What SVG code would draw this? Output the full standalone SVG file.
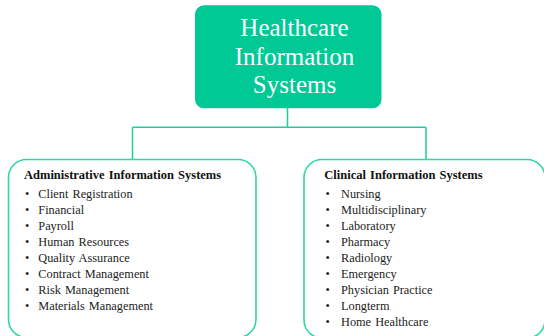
<svg xmlns="http://www.w3.org/2000/svg" width="544" height="336" viewBox="0 0 544 336">
<style>
.conn{fill:none;stroke:#1ccf9f;stroke-width:1.5}
.child{fill:#fff;stroke:#2fd6a8;stroke-width:1.6}
.title{font-family:"Liberation Serif","Times New Roman",serif;font-size:25px;fill:#fff;text-anchor:middle}
.head{font-family:"Liberation Serif","Times New Roman",serif;font-size:12.5px;font-weight:bold;fill:#111;word-spacing:1px}
.item{font-family:"Liberation Serif","Times New Roman",serif;font-size:12.3px;fill:#222;word-spacing:1px}
</style>
<rect width="544" height="336" fill="#fff"/>
<g id="connectors">
<path class="conn" d="M287.5 108 V127.3 M132.5 127.3 H426 M132.5 127.3 V159.5 M426 127.3 V159.5"/>
</g>
<g id="root">
<rect x="195" y="5.3" width="186.5" height="103" rx="9" fill="#00c996"/>
<text class="title" x="294.5" y="36">Healthcare</text>
<text class="title" x="294.5" y="65">Information</text>
<text class="title" x="294.5" y="93">Systems</text>
</g>
<g id="admin">
<rect class="child" x="8.5" y="159.5" width="247.5" height="178" rx="18"/>
<text class="head" x="24" y="179.3">Administrative Information Systems</text>
<g class="item">
<text x="25" y="198.3">•</text><text x="38.3" y="198.3">Client Registration</text>
<text x="25" y="214.3">•</text><text x="38.3" y="214.3">Financial</text>
<text x="25" y="230.2">•</text><text x="38.3" y="230.2">Payroll</text>
<text x="25" y="246.1">•</text><text x="38.3" y="246.1">Human Resources</text>
<text x="25" y="262">•</text><text x="38.3" y="262">Quality Assurance</text>
<text x="25" y="278.1">•</text><text x="38.3" y="278.1">Contract Management</text>
<text x="25" y="294">•</text><text x="38.3" y="294">Risk Management</text>
<text x="25" y="309.5">•</text><text x="38.3" y="309.5">Materials Management</text>
</g>
</g>
<g id="clinical">
<rect class="child" x="304" y="159.5" width="241" height="178.5" rx="18"/>
<text class="head" x="324.3" y="179.3">Clinical Information Systems</text>
<g class="item">
<text x="325.5" y="198.3">•</text><text x="341" y="198.3">Nursing</text>
<text x="325.5" y="214.3">•</text><text x="341" y="214.3">Multidisciplinary</text>
<text x="325.5" y="230.2">•</text><text x="341" y="230.2">Laboratory</text>
<text x="325.5" y="246.1">•</text><text x="341" y="246.1">Pharmacy</text>
<text x="325.5" y="262">•</text><text x="341" y="262">Radiology</text>
<text x="325.5" y="278.1">•</text><text x="341" y="278.1">Emergency</text>
<text x="325.5" y="294">•</text><text x="341" y="294">Physician Practice</text>
<text x="325.5" y="309.8">•</text><text x="341" y="309.8">Longterm</text>
<text x="325.5" y="325.7">•</text><text x="341" y="325.7">Home Healthcare</text>
</g>
</g>
</svg>
